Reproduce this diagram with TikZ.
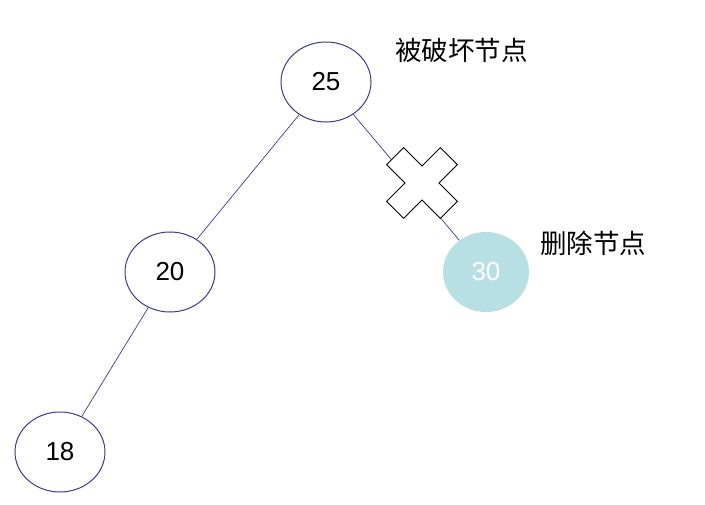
\documentclass[tikz,border=0pt]{standalone}
\usepackage{fontspec}
\setmainfont{Liberation Sans}
\newfontfamily\cjk{Noto Sans CJK SC}
\definecolor{edgec}{HTML}{3C3A8A}
\definecolor{tealfill}{HTML}{B8DFE3}
\begin{document}
\begin{tikzpicture}[x=1pt,y=-1pt,
  tnode/.style={ellipse,draw=edgec,line width=1pt,minimum width=90pt,minimum height=80pt,inner sep=0pt,font=\fontsize{26}{26}\selectfont},
  delnode/.style={ellipse,fill=tealfill,minimum width=86pt,minimum height=80pt,inner sep=0pt,text=white,font=\fontsize{26}{26}\selectfont},
  lbl/.style={font=\cjk\fontsize{26.5}{26.5}\selectfont,inner sep=0pt,anchor=west},
  link/.style={draw=edgec,line width=0.7pt}]
\usetikzlibrary{shapes.geometric}
\useasboundingbox (0,0) rectangle (705,504);
\node[tnode] (n25) at (326,82) {25};
\node[tnode] (n20) at (170,272) {20};
\node[tnode] (n18) at (60,452) {18};
\node[delnode] (n30) at (486,272) {30};
\draw[link] (n25) -- (n20);
\draw[link] (n20) -- (n18);
\draw[link] (n25) -- (n30);
\node[lbl] (l1) at (395,50) {被破坏节点};
\node[lbl] (l2) at (540,243) {删除节点};
\begin{scope}[shift={(422,183)},rotate=45]
\draw[fill=white,line width=1pt,line join=miter]
  (-12,-38) -- (12,-38) -- (12,-12) -- (38,-12) -- (38,12) -- (12,12) -- (12,38) -- (-12,38) -- (-12,12) -- (-38,12) -- (-38,-12) -- (-12,-12) -- cycle;
\end{scope}
\end{tikzpicture}
\end{document}
